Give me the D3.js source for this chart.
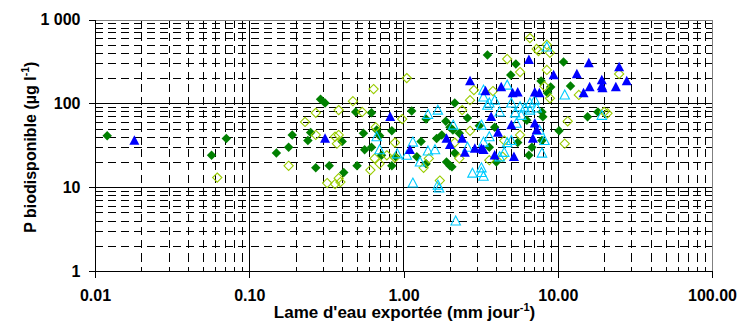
<!DOCTYPE html>
<html>
<head>
<meta charset="utf-8">
<script src="https://cdn.jsdelivr.net/npm/d3@7"></script>
<style>
  body { margin: 0; background: #fff; }
  text { font-family: Arial, "Liberation Sans", sans-serif; font-weight: bold; fill: #000; }
</style>
</head>
<body>
<svg id="chart" width="740" height="326"></svg>
<script>
// Axis ticks and labels
const xTickValues = [0.01, 0.1, 1, 10, 100];
const xTickLabels = ["0.01", "0.10", "1.00", "10.00", "100.00"];
const yTickValues = [1, 10, 100, 1000];
const yTickLabels = ["1", "10", "100", "1 000"];

// Series: [lame d'eau exportée (mm/jour), P biodisponible (µg/l)]
const greenFilled = [
  [0.012,41],[0.057,24],[0.071,38],[0.15,25.5],[0.18,30],[0.19,42],[0.24,36],[0.25,45],
  [0.27,17],[0.29,112],[0.31,101],[0.33,18],[0.40,35],[0.41,15],[0.49,79],[0.50,18],
  [0.55,44],[0.56,28],[0.62,77],[0.62,30],[0.67,48],[0.70,41],[0.72,24],[0.84,47],
  [0.84,18],[0.89,23],[1.13,81],[1.3,35],[1.4,65],[1.4,19],[1.64,38],[1.77,42],
  [1.88,61],[2.0,18],[2.0,52],[2.15,101],[2.6,67],[3.1,54],[3.5,377],[5.35,294],
  [4.96,218],[7.8,185],[8.6,133],[10.9,311],[12.1,161],[9.0,157],[18.2,79],[15.6,69],
  [7.9,79],[10.2,47],[6.3,63],[3.9,52],[2.09,48],[2.3,44],[8.0,69],[5.5,34],
  [6.8,30],[6.5,24],[7.9,36],[2.15,25.5],[3.6,30],[2.06,17.5],[1.9,20],[4.0,20],[1.22,23]
];
const yellowOpen = [
  [0.062,13],[0.18,18],[0.23,60],[0.27,77],[0.27,42],[0.36,40],[0.38,42],[0.37,33],
  [0.38,83],[0.32,11.2],[0.36,10.9],[0.38,12.8],[0.39,11.5],[0.47,106],[0.54,79],[0.64,148],
  [1.05,200],[0.98,65],[0.88,34],[0.66,52],[0.65,22],[0.70,19],[0.61,16],[0.78,24],
  [0.88,22.5],[1.35,17],[1.46,22],[1.72,12],[3.8,140],[6.6,600],[7.3,445],[7.5,420],
  [8.5,500],[8.9,400],[4.7,338],[5.7,236],[8.5,250],[8.2,160],[8.9,115],[2.86,144],
  [2.7,109],[2.4,83],[25,224],[13.7,126],[20,79],[21,76],[11.6,61],[11.1,33],
  [4.4,23],[2.7,47],[4.5,36],[5.7,42],[3.6,21],[2.3,22],[2.15,34]
];
const blueFilled = [
  [0.018,36],[0.31,38],[0.82,69],[1.1,28],[1.9,38],[2.7,185],[3.4,140],[6.5,330],
  [4.3,157],[5.1,133],[5.5,136],[7.1,136],[7.6,133],[9.4,218],[13.3,224],[15.9,303],
  [25,271],[28,185],[19.3,190],[19.3,161],[19.5,152],[23.8,157],[16.1,157],[14.7,133],
  [3.7,69],[5.0,55],[4.1,45],[7.1,58],[7.3,48],[5.2,23],[3.9,24],[3.3,28],
  [2.0,32],[2.4,38],[2.5,26],[2.9,29],[3.2,29],[6.9,38]
];
const cyanOpen = [
  [1.15,11.2],[1.67,10.6],[1.7,9.8],[2.18,3.95],[3.2,15],[3.3,13.5],[1.44,74],[1.67,83],
  [0.67,40],[0.70,28],[0.91,25],[1.05,24],[1.15,34.5],[1.44,27],[1.6,28],[1.28,20],
  [4.7,165],[3.3,144],[8.5,470],[11.1,126],[19.3,72],[2.8,14.7],[3.2,17],[4.2,23],
  [4.5,26],[4.7,34],[5.0,36],[3.6,40],[3.3,34.5],[2.6,30],[2.1,55],[5.3,77],
  [5.8,72],[5.4,58],[7.6,48],[7.9,25.5],[3.2,55],[3.5,95],[3.9,109],[5.0,101],
  [6.1,88],[7.1,109],[4.2,79],[3.3,119],[8.2,36],[6.6,83],[6.6,101],[5.7,91],
  [7.3,88],[3.6,101]
];

const svg = d3.select("#chart");
const plot = { left: 95, right: 712, top: 19.5, bottom: 271 };

const x = d3.scaleLog().domain([0.01, 100]).range([plot.left, plot.right]);
const y = d3.scaleLog().domain([1, 1000]).range([plot.bottom, plot.top]);

// Minor gridlines at 2..9 of each decade
const minorX = [], minorY = [];
[0.01, 0.1, 1, 10].forEach(d => { for (let k = 2; k <= 9; k++) minorX.push(d * k); });
[1, 10, 100].forEach(d => { for (let k = 2; k <= 9; k++) minorY.push(d * k); });

const grid = svg.append("g").attr("shape-rendering", "crispEdges");
grid.selectAll(".mx").data(minorX).join("line")
  .attr("x1", d => Math.round(x(d)) + 0.5).attr("x2", d => Math.round(x(d)) + 0.5)
  .attr("y1", plot.top).attr("y2", plot.bottom)
  .attr("stroke", "#000").attr("stroke-width", 1).attr("stroke-dasharray", "8,5");
grid.selectAll(".my").data(minorY).join("line")
  .attr("y1", d => Math.round(y(d)) + 0.5).attr("y2", d => Math.round(y(d)) + 0.5)
  .attr("x1", plot.left).attr("x2", plot.right)
  .attr("stroke", "#000").attr("stroke-width", 1).attr("stroke-dasharray", "8,5");

// Major gridlines
grid.selectAll(".Mx").data(xTickValues.slice(1, -1)).join("line")
  .attr("x1", d => Math.round(x(d)) + 0.5).attr("x2", d => Math.round(x(d)) + 0.5)
  .attr("y1", plot.top).attr("y2", plot.bottom).attr("stroke", "#000");
grid.selectAll(".My").data(yTickValues.slice(1, -1)).join("line")
  .attr("y1", d => Math.round(y(d)) + 0.5).attr("y2", d => Math.round(y(d)) + 0.5)
  .attr("x1", plot.left).attr("x2", plot.right).attr("stroke", "#000");

// Plot area frame (top and right)
grid.append("path")
  .attr("d", `M${plot.left},${Math.round(plot.top) + 0.5}H${Math.round(plot.right) + 0.5}V${plot.bottom}`)
  .attr("fill", "none").attr("stroke", "#808080");

// Axes
const xAxis = d3.axisBottom(x).tickValues(xTickValues)
  .tickFormat((d, i) => xTickLabels[i]).tickSize(6).tickPadding(12);
const yAxis = d3.axisLeft(y).tickValues(yTickValues)
  .tickFormat((d, i) => yTickLabels[i]).tickSize(6).tickPadding(8);

const gx = svg.append("g").attr("transform", `translate(0,${Math.round(plot.bottom) + 0.5})`).call(xAxis);
const gy = svg.append("g").attr("transform", `translate(${plot.left - 0.5},0)`).call(yAxis);
[gx, gy].forEach(g => {
  g.select(".domain").attr("stroke", "#000").attr("shape-rendering", "crispEdges");
  g.selectAll(".tick line").attr("stroke", "#000").attr("shape-rendering", "crispEdges");
  g.selectAll("text").attr("font-size", 16).attr("font-family", "Arial, 'Liberation Sans', sans-serif")
    .attr("font-weight", "bold").attr("fill", "#000");
});
gx.select(".domain").attr("d", `M${plot.left},6V0H${Math.round(plot.right) + 0.5}V6`);

// Marker shapes
const diamond = { draw(ctx, size) { const r = Math.sqrt(size) / 2;
  ctx.moveTo(0, -r); ctx.lineTo(r, 0); ctx.lineTo(0, r); ctx.lineTo(-r, 0); ctx.closePath(); } };
const triangle = { draw(ctx, size) { const r = Math.sqrt(size) / 2;
  ctx.moveTo(0, -r * 1.05); ctx.lineTo(r, r * 0.85); ctx.lineTo(-r, r * 0.85); ctx.closePath(); } };

function drawSeries(data, type, size, fill, stroke) {
  svg.append("g").selectAll("path").data(data).join("path")
    .attr("transform", d => `translate(${x(d[0])},${y(d[1])})`)
    .attr("d", d3.symbol().type(type).size(size))
    .attr("fill", fill).attr("stroke", stroke).attr("stroke-width", stroke === "none" ? 0 : 1.1);
}

drawSeries(greenFilled, diamond, 90, "#008000", "none");
drawSeries(yellowOpen, diamond, 85, "none", "#99cc00");
drawSeries(cyanOpen, triangle, 90, "none", "#00ccff");
drawSeries(blueFilled, triangle, 100, "#0000ff", "none");

// Axis titles
svg.append("text")
  .attr("x", (plot.left + plot.right) / 2 + 1).attr("y", 318)
  .attr("text-anchor", "middle").attr("font-size", 17)
  .call(t => {
    t.append("tspan").text("Lame d'eau exportée (mm jour");
    t.append("tspan").attr("font-size", 11).attr("dy", -7).text("-1");
    t.append("tspan").attr("dy", 7).text(")");
  });

svg.append("text")
  .attr("transform", `translate(36,${(plot.top + plot.bottom) / 2 + 2}) rotate(-90)`)
  .attr("text-anchor", "middle").attr("font-size", 16)
  .call(t => {
    t.append("tspan").text("P biodisponible (µg l");
    t.append("tspan").attr("font-size", 10.5).attr("dy", -7).text("-1");
    t.append("tspan").attr("dy", 7).text(")");
  });
</script>
</body>
</html>
